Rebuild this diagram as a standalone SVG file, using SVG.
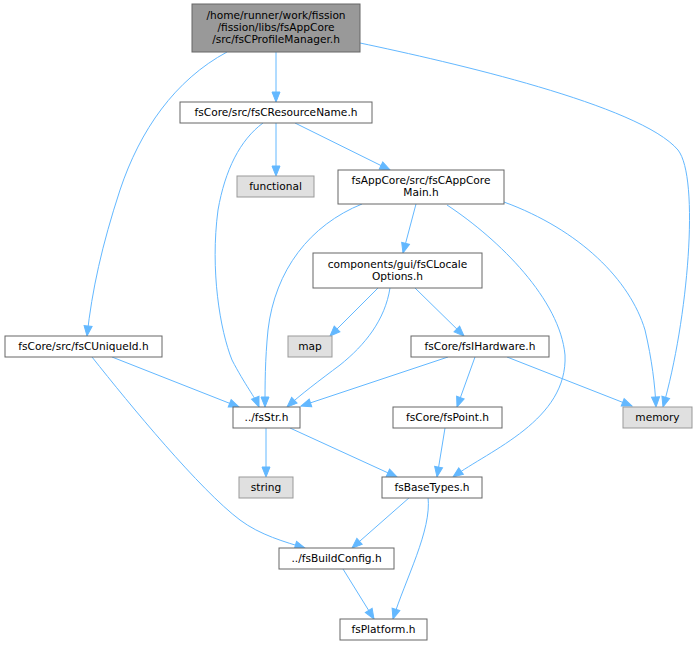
<svg xmlns="http://www.w3.org/2000/svg" width="696" height="647" viewBox="0 0 696 647">
<defs>
<marker id="ah" markerUnits="userSpaceOnUse" markerWidth="12" markerHeight="10" refX="11" refY="4.5" orient="auto" overflow="visible">
<path d="M1,0.5 L11,4.5 L1,8.5 z" fill="#63b8ff" stroke="#63b8ff" stroke-width="1"/>
</marker>
</defs>
<style>
.n rect{fill:#ffffff;stroke:#666666;stroke-width:1}
.g rect{fill:#e0e0e0;stroke:#999999;stroke-width:1}
.top rect{fill:#999999;stroke:#666666;stroke-width:1}
text{font-family:"DejaVu Sans","Liberation Sans",sans-serif;font-size:10.6px;fill:#000000;text-anchor:middle}
.e path{fill:none;stroke:#63b8ff;stroke-width:1;marker-end:url(#ah)}
</style>
<rect x="0" y="0" width="696" height="647" fill="#ffffff"/>
<g id="edges" class="e">
<path d="M276,52 L276,102"/>
<path d="M227,52 C175,80 140,130 120,190 C102,245 92,290 87,336"/>
<path d="M360,43 C450,62 640,105 678,150 C700,178 688,320 663,407"/>
<path d="M276,123 L276,176"/>
<path d="M295,123 L390,170"/>
<path d="M263,123 C240,140 225,170 218,210 C210,270 220,330 232,360 C245,385 255,397 259,407"/>
<path d="M362,204 C310,225 275,270 268,330 C265,360 265,385 265,407"/>
<path d="M504,202 C580,230 630,280 645,330 C652,360 655,385 656,407"/>
<path d="M447,205 C500,240 560,300 565,355 C568,420 490,450 453,477"/>
<path d="M416,204 L403,253"/>
<path d="M378,288 L330,336"/>
<path d="M390,288 C385,320 365,345 340,365 C320,380 300,395 287,407"/>
<path d="M415,288 L464,336"/>
<path d="M448,357 L301,406"/>
<path d="M475,357 L457,407"/>
<path d="M507,357 L632,406"/>
<path d="M112,357 L239,407"/>
<path d="M92,357 C130,405 200,490 240,520 C260,535 285,542 305,548"/>
<path d="M266,428 L266,477"/>
<path d="M290,428 L397,477"/>
<path d="M445,428 L437,477"/>
<path d="M410,497 L352,548"/>
<path d="M428,497 C432,530 405,580 393,619"/>
<path d="M343,569 L374,619"/>
</g>
<g id="n_top" class="top"><rect x="192" y="4" width="168" height="48"/><text x="276" y="19">/home/runner/work/fission</text><text x="276" y="31">/fission/libs/fsAppCore</text><text x="276" y="43">/src/fsCProfileManager.h</text></g>
<g id="n_resname" class="n"><rect x="180" y="102" width="192" height="21"/><text x="276" y="116">fsCore/src/fsCResourceName.h</text></g>
<g id="n_functional" class="g"><rect x="237" y="176" width="77" height="21"/><text x="275.5" y="190">functional</text></g>
<g id="n_appcore" class="n"><rect x="338" y="170" width="166" height="34"/><text x="421" y="184">fsAppCore/src/fsCAppCore</text><text x="421" y="196">Main.h</text></g>
<g id="n_locale" class="n"><rect x="313" y="253" width="169" height="35"/><text x="397.5" y="268">components/gui/fsCLocale</text><text x="397.5" y="280">Options.h</text></g>
<g id="n_map" class="g"><rect x="288" y="336" width="44" height="21"/><text x="310" y="350">map</text></g>
<g id="n_hardware" class="n"><rect x="411" y="336" width="138" height="21"/><text x="480" y="350">fsCore/fsIHardware.h</text></g>
<g id="n_uniqueid" class="n"><rect x="5" y="336" width="157" height="21"/><text x="83.5" y="350">fsCore/src/fsCUniqueId.h</text></g>
<g id="n_fsstr" class="n"><rect x="233" y="407" width="67" height="21"/><text x="266.5" y="421">../fsStr.h</text></g>
<g id="n_memory" class="g"><rect x="623" y="407" width="69" height="21"/><text x="657.5" y="421">memory</text></g>
<g id="n_fspoint" class="n"><rect x="393" y="407" width="109" height="21"/><text x="447.5" y="421">fsCore/fsPoint.h</text></g>
<g id="n_string" class="g"><rect x="239" y="477" width="54" height="21"/><text x="266" y="491">string</text></g>
<g id="n_basetypes" class="n"><rect x="382" y="477" width="100" height="21"/><text x="432" y="491">fsBaseTypes.h</text></g>
<g id="n_buildconfig" class="n"><rect x="279" y="548" width="115" height="21"/><text x="336.5" y="562">../fsBuildConfig.h</text></g>
<g id="n_platform" class="n"><rect x="340" y="619" width="87" height="21"/><text x="383.5" y="633">fsPlatform.h</text></g>
</svg>
